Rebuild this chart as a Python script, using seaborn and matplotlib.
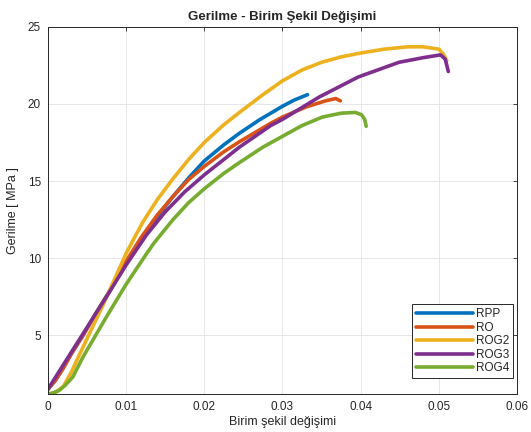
import matplotlib
matplotlib.use("Agg")
import matplotlib.pyplot as plt
from matplotlib.ticker import FormatStrFormatter
import seaborn as sns
import pandas as pd

# stress-strain curves
rpp_x = [0, 0.001, 0.002, 0.003, 0.0045, 0.006, 0.008, 0.01, 0.012, 0.014, 0.016, 0.018,
         0.02, 0.0225, 0.0245, 0.027, 0.03, 0.0315, 0.0332]
rpp_y = [1.5, 2.1, 2.9, 3.8, 5.0, 6.3, 7.95, 9.7, 11.3, 12.7, 14.0, 15.2,
         16.3, 17.35, 18.1, 18.95, 19.85, 20.25, 20.6]

ro_x = [0, 0.001, 0.002, 0.003, 0.0045, 0.006, 0.008, 0.01, 0.012, 0.014, 0.016, 0.018,
        0.02, 0.0225, 0.0245, 0.0285, 0.03, 0.033, 0.0355, 0.0368, 0.0374]
ro_y = [1.5, 2.1, 2.9, 3.8, 5.0, 6.3, 7.95, 9.8, 11.4, 12.8, 14.0, 15.1,
        15.95, 16.9, 17.55, 18.75, 19.15, 19.8, 20.2, 20.35, 20.2]

rog2_x = [0, 0.001, 0.002, 0.003, 0.004, 0.0055, 0.007, 0.0085, 0.01, 0.0121, 0.014, 0.016,
          0.018, 0.02, 0.0225, 0.0245, 0.0275, 0.03, 0.0325, 0.035, 0.0375, 0.04, 0.043,
          0.046, 0.048, 0.05, 0.0506, 0.051]
rog2_y = [1.2, 1.3, 1.7, 2.6, 3.7, 5.3, 6.9, 8.6, 10.3, 12.3, 13.8, 15.15,
          16.4, 17.5, 18.65, 19.45, 20.6, 21.5, 22.2, 22.7, 23.05, 23.3, 23.55,
          23.7, 23.7, 23.55, 23.2, 22.8]

rog3_x = [0, 0.0015, 0.003, 0.0045, 0.006, 0.0075, 0.01, 0.0126, 0.015, 0.0175, 0.02,
          0.0225, 0.0245, 0.0285, 0.03, 0.0347, 0.0397, 0.0449, 0.048, 0.0502,
          0.0508, 0.0512]
rog3_y = [1.5, 2.7, 3.9, 5.1, 6.3, 7.5, 9.55, 11.5, 13.0, 14.3, 15.4,
          16.4, 17.2, 18.6, 19.0, 20.45, 21.75, 22.7, 23.0, 23.18,
          22.9, 22.1]

rog4_x = [0, 0.0006, 0.0015, 0.0022, 0.0032, 0.0045, 0.006, 0.0075, 0.01, 0.0125, 0.0136,
          0.016, 0.018, 0.02, 0.0225, 0.0245, 0.0275, 0.03, 0.0325, 0.0351, 0.0375, 0.0393,
          0.0401, 0.0405, 0.0407]
rog4_y = [1.2, 1.25, 1.45, 1.75, 2.3, 3.6, 4.9, 6.2, 8.3, 10.2, 11.0,
          12.5, 13.6, 14.5, 15.5, 16.2, 17.2, 17.9, 18.6, 19.15, 19.4, 19.45,
          19.3, 19.0, 18.55]

names = ["RPP", "RO", "ROG2", "ROG3", "ROG4"]
colors = ["#0072BD", "#D95319", "#EDB120", "#7E2F8E", "#77AC30"]

sns.set_theme(style="whitegrid", rc={"grid.color": "#e3e3e3", "grid.linewidth": 0.6})
plt.rcParams['font.family'] = ['Liberation Sans', 'DejaVu Sans']

frames = []
for name, xs, ys in zip(names, [rpp_x, ro_x, rog2_x, rog3_x, rog4_x],
                        [rpp_y, ro_y, rog2_y, rog3_y, rog4_y]):
    frames.append(pd.DataFrame({"strain": xs, "stress": ys, "Method": name}))
df = pd.concat(frames, ignore_index=True)

fig = plt.figure(figsize=(5.31, 4.32), dpi=100)
ax = fig.add_axes([0.090, 0.088, 0.884, 0.850])
sns.lineplot(data=df, x="strain", y="stress", hue="Method", palette=colors,
             sort=False, estimator=None, linewidth=2.6, ax=ax)

ax.set_xlim(0, 0.06)
ax.set_ylim(1.2, 25)
ax.set_xticks([0, 0.01, 0.02, 0.03, 0.04, 0.05, 0.06])
ax.set_yticks([5, 10, 15, 20, 25])
ax.xaxis.set_major_formatter(FormatStrFormatter('%g'))
ax.tick_params(direction='in', length=3, width=0.6, colors='#262626', labelsize=8.5,
               top=True, right=True, pad=5)
for s in ax.spines.values():
    s.set_color('#262626')
    s.set_linewidth(0.7)

ax.set_title("Gerilme - Birim Şekil Değişimi", fontsize=9.5, fontweight='bold', pad=5)
ax.set_xlabel("Birim şekil değişimi", fontsize=9, labelpad=2)
ax.set_ylabel("Gerilme [ MPa ]", fontsize=9, labelpad=6)

handles, labels = ax.get_legend_handles_labels()
leg = ax.legend(handles, labels, loc='lower right', bbox_to_anchor=(0.992, 0.043),
                fontsize=8.5, fancybox=False, framealpha=1, edgecolor='#262626',
                handlelength=4.8, handletextpad=0.25, labelspacing=0.12,
                borderpad=0.35, borderaxespad=0.0)
leg.get_frame().set_linewidth(0.7)

plt.savefig('out.png', dpi=100)
